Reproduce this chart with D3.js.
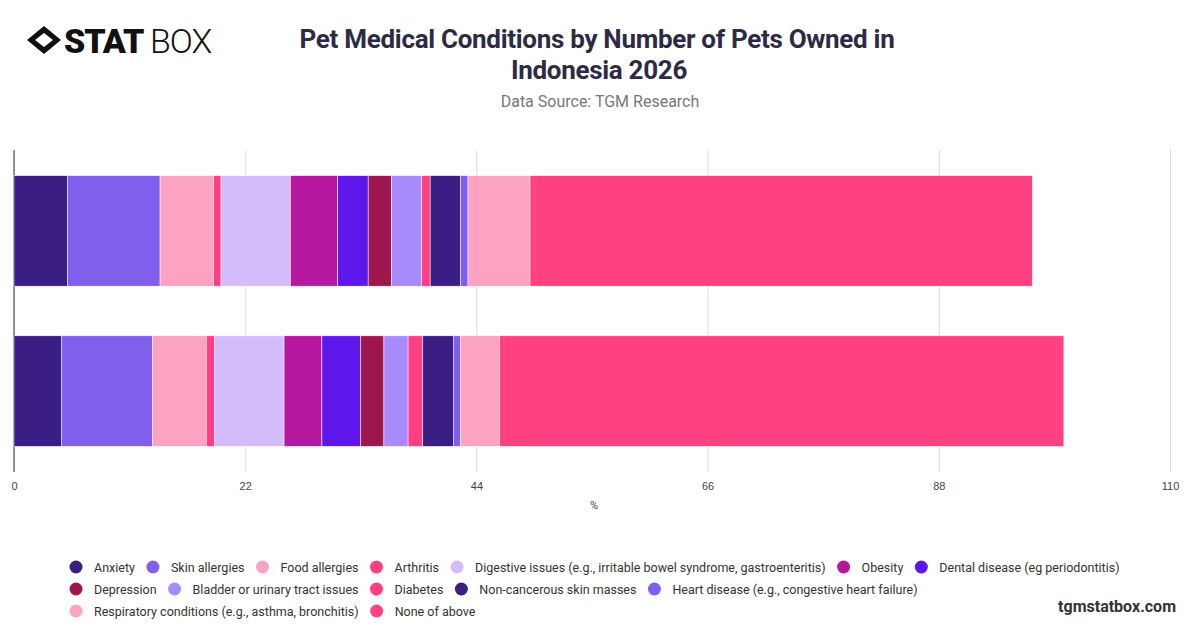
<!DOCTYPE html><html><head><meta charset="utf-8"><script src="https://cdn.jsdelivr.net/npm/d3@7"></script>
<style>body{margin:0;background:#fff;font-family:Roboto,"Open Sans",sans-serif}</style></head><body><svg id="c" width="1200" height="628"></svg>
<script>
const categories=["1 pet","2+ pets"];
const series=["Anxiety","Skin allergies","Food allergies","Arthritis","Digestive issues (e.g., irritable bowel syndrome, gastroenteritis)","Obesity","Dental disease (eg periodontitis)","Depression","Bladder or urinary tract issues","Diabetes","Non-cancerous skin masses","Heart disease (e.g., congestive heart failure)","Respiratory conditions (e.g., asthma, bronchitis)","None of above"];
const colors=["#3a1e84","#7f5fec","#fca3c2","#ff3f83","#d4bcfb","#b5179e","#5e17eb","#9d174d","#a78bfa","#ff3f83","#3a1e84","#7f5fec","#fca3c2","#ff4081"];
const values1=[5.1,8.8,5.1,0.7,6.6,4.5,2.9,2.2,2.9,0.8,2.9,0.7,5.9,47.8];
const values2=[4.5,8.7,5.1,0.8,6.6,3.6,3.7,2.2,2.3,1.4,2.9,0.7,3.7,53.7];
const ticks=[0,22,44,66,88,110];
const data=[values1,values2];
const svg=d3.select("#c");
const x=d3.scaleLinear().domain([0,110]).range([14,1170]);
const y=d3.scaleBand().domain(categories).range([150,472]).paddingInner(0.31).paddingOuter(0.16);
svg.append("g").attr("transform","translate(0,472)").call(d3.axisBottom(x).tickValues(ticks).tickSize(-322).tickPadding(10))
 .call(g=>{g.select(".domain").remove();g.selectAll("line").attr("stroke","#ddd");g.selectAll("text").attr("fill","#444").attr("font-size",11);});
svg.append("line").attr("x1",14).attr("x2",14).attr("y1",150).attr("y2",472).attr("stroke","#333");
data.forEach((vals,i)=>{let acc=0;vals.forEach((v,j)=>{
 svg.append("rect").attr("x",x(acc)).attr("width",x(acc+v)-x(acc)).attr("y",y(categories[i])).attr("height",y.bandwidth()).attr("fill",colors[j]).attr("stroke","#fff").attr("stroke-width",0.5);acc+=v;});});
svg.append("text").attr("x",594).attr("y",509).attr("text-anchor","middle").attr("font-size",11).attr("fill","#444").text("%");
svg.append("text").attr("x",597).attr("y",48).attr("text-anchor","middle").attr("font-size",26).attr("font-weight",700).attr("fill","#2d2a45").attr("letter-spacing",-0.3).text("Pet Medical Conditions by Number of Pets Owned in");
svg.append("text").attr("x",599).attr("y",79).attr("text-anchor","middle").attr("font-size",26).attr("font-weight",700).attr("fill","#2d2a45").attr("letter-spacing",-0.3).text("Indonesia 2026");
svg.append("text").attr("x",600).attr("y",107).attr("text-anchor","middle").attr("font-size",16).attr("fill","#777").text("Data Source: TGM Research");
const lg=svg.append("g").attr("transform","translate(44,40)");
lg.append("path").attr("d","M-17,0L0,-14L17,0L0,14Z").attr("fill","#111");
lg.append("path").attr("d","M-9,0L0,-7L9,0L0,7Z").attr("fill","#fff");
svg.append("text").attr("x",64).attr("y",53).attr("font-size",34).attr("font-weight",900).attr("fill","#111").attr("letter-spacing",-1).text("STAT");
svg.append("text").attr("x",150).attr("y",53).attr("font-size",34).attr("font-weight",300).attr("fill","#111").attr("letter-spacing",-1).text("BOX");
svg.append("text").attr("x",1176).attr("y",612).attr("text-anchor","end").attr("font-size",16).attr("font-weight",700).attr("fill","#333").text("tgmstatbox.com");
const rows=[[0,1,2,3,4,5,6],[7,8,9,10,11],[12,13]];
rows.forEach((r,ri)=>{let cx=70;r.forEach(j=>{const g=svg.append("g").attr("transform",`translate(${cx},${567+ri*22})`);
 g.append("circle").attr("cx",6).attr("cy",0).attr("r",6.5).attr("fill",colors[j]);
 const t=g.append("text").attr("x",24).attr("y",4.5).attr("font-size",12.5).attr("fill","#333").text(series[j]);
 cx+=24+t.node().getComputedTextLength()+12;});});
</script></body></html>
